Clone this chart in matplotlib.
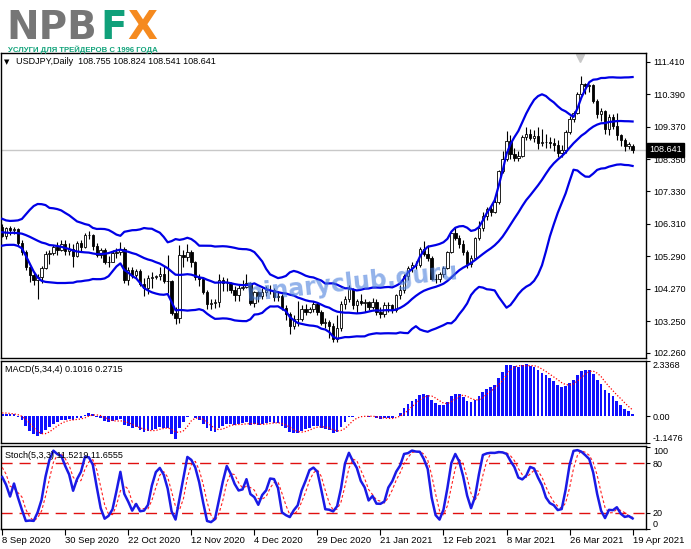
import numpy as np
import pandas as pd
import matplotlib
matplotlib.use('Agg')
import matplotlib.pyplot as plt
import matplotlib.transforms as mtransforms

plt.rcParams['font.family'] = ['Liberation Sans', 'DejaVu Sans']

# daily bars Aug 2020 (only used to warm up the indicators at the left edge)
warm_close = [105.95, 105.72, 105.55, 105.58, 105.92, 105.95, 106.35, 106.45, 106.25, 106.10,
              105.95, 105.75, 105.85, 105.80, 105.82, 105.85, 106.05, 106.00, 106.40, 105.80,
              105.90, 106.10, 106.25, 106.20, 106.25, 106.30]
warm_high = [106.45, 106.00, 105.85, 105.75, 106.05, 106.10, 106.50, 106.90, 106.70, 106.35,
             106.20, 106.10, 106.05, 106.05, 106.00, 106.00, 106.25, 106.30, 106.60, 106.30,
             106.10, 106.20, 106.35, 106.40, 106.40, 106.40]
warm_low = [105.60, 105.35, 105.30, 105.35, 105.50, 105.70, 105.90, 106.20, 106.00, 105.90,
            105.70, 105.45, 105.60, 105.55, 105.60, 105.65, 105.75, 105.80, 105.95, 105.25,
            105.60, 105.75, 105.90, 106.00, 106.05, 106.15]

# USDJPY daily, 8 Sep 2020 .. 19 Apr 2021 (161 bars)
opens = [106.22, 105.93, 106.18, 106.12, 106.16, 105.72, 105.44, 104.95, 104.72, 104.56,
         104.65, 104.93, 105.38, 105.40, 105.58, 105.50, 105.68, 105.47, 105.53, 105.30,
         105.72, 105.60, 105.95, 105.97, 105.63, 105.33, 105.48, 105.11, 105.13, 105.39,
         105.43, 105.52, 104.55, 104.87, 104.72, 104.84, 104.44, 104.30, 104.60, 104.65,
         104.68, 104.73, 104.52, 104.51, 103.51, 103.35, 105.34, 105.28, 105.42, 105.10,
         104.63, 104.58, 104.18, 103.80, 103.83, 103.85, 104.55, 104.45, 104.47, 104.25,
         104.07, 104.30, 104.33, 104.46, 103.84, 104.17, 104.05, 104.18, 104.23, 104.25,
         104.01, 104.06, 103.67, 103.49, 103.10, 103.31, 103.33, 103.64, 103.56, 103.65,
         103.79, 103.54, 103.21, 103.24, 103.12, 102.71, 103.03, 103.80, 103.94, 104.26,
         103.75, 103.88, 103.84, 103.87, 103.69, 103.86, 103.53, 103.49, 103.78, 103.76,
         103.61, 104.07, 104.23, 104.68, 104.94, 105.02, 105.03, 105.53, 105.38, 105.24,
         104.58, 104.57, 104.74, 104.94, 105.42, 106.03, 105.88, 105.69, 105.42, 105.06,
         105.25, 105.86, 106.18, 106.57, 106.77, 106.70, 107.00, 107.97, 108.35, 108.91,
         108.51, 108.39, 108.46, 109.03, 109.15, 109.00, 109.06, 108.84, 108.88, 108.88,
         108.85, 108.79, 108.55, 108.64, 109.20, 109.61, 109.80, 110.38, 110.72, 110.63,
         110.69, 110.17, 109.75, 109.86, 109.28, 109.67, 109.38, 109.09, 108.94, 108.76,
         108.755]
highs = [106.30, 106.20, 106.25, 106.20, 106.18, 105.80, 105.50, 105.00, 104.80, 104.75,
         105.00, 105.45, 105.50, 105.65, 105.75, 105.80, 105.80, 105.70, 105.68, 105.78,
         105.80, 106.02, 106.10, 106.00, 105.70, 105.55, 105.55, 105.30, 105.50, 105.55,
         105.75, 105.60, 104.95, 104.95, 104.90, 104.88, 104.60, 104.70, 104.80, 104.72,
         104.95, 105.00, 105.34, 104.55, 103.70, 105.65, 105.48, 105.68, 105.48, 105.15,
         104.75, 104.65, 104.25, 103.95, 103.95, 104.75, 104.65, 104.60, 104.50, 104.35,
         104.40, 104.55, 104.75, 104.50, 104.20, 104.22, 104.30, 104.35, 104.40, 104.30,
         104.20, 104.12, 103.75, 103.55, 103.45, 103.90, 103.75, 103.80, 103.70, 103.90,
         103.85, 103.60, 103.35, 103.30, 103.20, 103.45, 103.90, 104.05, 104.40, 104.30,
         103.95, 104.10, 103.95, 103.90, 104.00, 103.95, 103.70, 103.85, 103.85, 103.80,
         104.10, 104.40, 104.75, 105.00, 105.10, 105.15, 105.60, 105.77, 105.65, 105.30,
         104.75, 104.80, 105.00, 105.45, 106.05, 106.22, 105.95, 105.80, 105.50, 105.35,
         105.90, 106.40, 106.70, 106.85, 106.90, 107.10, 108.00, 108.60, 109.23, 109.10,
         108.70, 108.60, 109.10, 109.35, 109.30, 109.25, 109.35, 109.30, 109.15, 109.05,
         109.00, 108.95, 108.80, 109.25, 109.70, 109.85, 110.45, 110.97, 110.75, 110.70,
         110.70, 110.25, 109.95, 109.90, 109.75, 109.75, 109.80, 109.15, 109.00, 108.90,
         108.824]
lows = [105.90, 105.85, 105.95, 106.00, 105.62, 105.35, 104.85, 104.50, 104.40, 103.95,
        104.45, 104.88, 105.05, 105.35, 105.35, 105.45, 105.35, 105.35, 104.95, 105.28,
        105.45, 105.55, 105.85, 105.50, 105.28, 105.25, 105.05, 104.95, 105.10, 105.25,
        105.35, 104.45, 104.40, 104.60, 104.60, 104.35, 104.05, 104.10, 104.30, 104.58,
        104.55, 104.45, 104.14, 103.45, 103.18, 103.20, 104.95, 105.15, 104.95, 104.55,
        104.35, 104.10, 103.65, 103.65, 103.68, 103.70, 104.20, 104.20, 104.15, 103.90,
        103.90, 104.25, 104.30, 103.75, 103.70, 103.85, 103.95, 104.05, 104.10, 103.90,
        103.90, 103.62, 103.30, 102.86, 103.00, 103.10, 103.25, 103.45, 103.50, 103.55,
        103.45, 103.15, 103.05, 102.72, 102.60, 102.59, 102.95, 103.65, 103.85, 103.65,
        103.50, 103.75, 103.55, 103.60, 103.65, 103.45, 103.35, 103.40, 103.55, 103.50,
        103.55, 103.95, 104.15, 104.55, 104.80, 104.90, 104.95, 105.30, 105.15, 104.55,
        104.45, 104.50, 104.65, 104.90, 105.40, 105.80, 105.55, 105.35, 104.92, 104.95,
        105.20, 105.80, 106.10, 106.45, 106.55, 106.65, 106.95, 107.90, 108.30, 108.35,
        108.30, 108.30, 108.40, 108.95, 108.95, 108.90, 108.65, 108.75, 108.70, 108.70,
        108.60, 108.40, 108.40, 108.55, 109.15, 109.50, 109.75, 110.35, 110.40, 110.45,
        110.10, 109.65, 109.55, 109.15, 109.10, 109.30, 108.95, 108.75, 108.60, 108.65,
        108.541]
closes = [105.93, 106.18, 106.12, 106.16, 105.72, 105.44, 104.95, 104.72, 104.56, 104.65,
          104.93, 105.38, 105.40, 105.58, 105.50, 105.68, 105.47, 105.53, 105.30, 105.72,
          105.60, 105.95, 105.97, 105.63, 105.33, 105.48, 105.11, 105.13, 105.39, 105.43,
          105.52, 104.55, 104.87, 104.72, 104.84, 104.44, 104.30, 104.60, 104.65, 104.68,
          104.73, 104.52, 104.51, 103.51, 103.35, 105.34, 105.28, 105.42, 105.10, 104.63,
          104.58, 104.18, 103.80, 103.83, 103.85, 104.55, 104.45, 104.47, 104.25, 104.07,
          104.30, 104.33, 104.46, 103.84, 104.17, 104.05, 104.18, 104.23, 104.25, 104.01,
          104.06, 103.67, 103.49, 103.10, 103.31, 103.33, 103.64, 103.56, 103.65, 103.79,
          103.54, 103.21, 103.24, 103.12, 102.71, 103.03, 103.80, 103.94, 104.26, 103.75,
          103.88, 103.84, 103.87, 103.69, 103.86, 103.53, 103.49, 103.78, 103.76, 103.61,
          104.07, 104.23, 104.68, 104.94, 105.02, 105.03, 105.53, 105.38, 105.24, 104.58,
          104.57, 104.74, 104.94, 105.42, 106.03, 105.88, 105.69, 105.42, 105.06, 105.25,
          105.86, 106.18, 106.57, 106.77, 106.70, 107.00, 107.97, 108.35, 108.91, 108.51,
          108.39, 108.46, 109.03, 109.15, 109.00, 109.06, 108.84, 108.88, 108.88, 108.85,
          108.79, 108.55, 108.64, 109.20, 109.61, 109.80, 110.38, 110.72, 110.63, 110.69,
          110.17, 109.75, 109.86, 109.28, 109.67, 109.38, 109.09, 108.94, 108.76, 108.81,
          108.641]

date_pos = [0, 16, 32, 48, 64, 80, 96, 112, 128, 144, 160]
date_labels = ['8 Sep 2020', '30 Sep 2020', '22 Oct 2020', '12 Nov 2020', '4 Dec 2020',
               '29 Dec 2020', '21 Jan 2021', '12 Feb 2021', '8 Mar 2021', '26 Mar 2021',
               '19 Apr 2021']
price_ticks = [111.410, 110.390, 109.370, 108.350, 107.330, 106.310, 105.290, 104.270,
               103.250, 102.260]
macd_top, macd_bottom = 2.3368, -1.1476
last_price = 108.641

# indicators: Bollinger(20,2), MACD(5,34,4), Stochastic(5,3,3)
nw = len(warm_close)
c_all = pd.Series(warm_close + closes)
h_all = pd.Series(warm_high + highs)
l_all = pd.Series(warm_low + lows)
mid = c_all.rolling(20).mean()
sd = c_all.rolling(20).std(ddof=0)
bb_up = (mid + 2 * sd)[nw:].values
bb_mid = mid[nw:].values
bb_lo = (mid - 2 * sd)[nw:].values
macd = c_all.ewm(span=5, adjust=False).mean() - c_all.ewm(span=34, adjust=False).mean()
sig = macd.rolling(4).mean()
macd = macd[nw:].values
sig = sig[nw:].values
hh = h_all.rolling(5).max()
ll = l_all.rolling(5).min()
k = (c_all - ll).rolling(3).sum() / (hh - ll).rolling(3).sum() * 100
d = k.rolling(3).mean()
k = k[nw:].values
d = d[nw:].values

o = np.array(opens)
h = np.array(highs)
l = np.array(lows)
c = np.array(closes)
x = np.arange(len(c))

W, H = 691, 549
fig = plt.figure(figsize=(W / 100, H / 100), dpi=100)


def fx(px):
    return px / W


def fy(py):
    return 1 - py / H


ax = fig.add_axes([fx(1), fy(358), fx(646) - fx(1), fy(53) - fy(358)])
ax_m = fig.add_axes([fx(1), fy(443.3), fx(646) - fx(1), fy(361.3) - fy(443.3)])
ax_s = fig.add_axes([fx(1), fy(529), fx(646) - fx(1), fy(445.7) - fy(529)])

fs = 6.5
for a in (ax, ax_m, ax_s):
    a.set_xlim(-0.3, 163.4)
    a.yaxis.tick_right()
    a.tick_params(axis='y', direction='out', length=3, width=0.8, labelsize=fs, pad=2)
    for sp in a.spines.values():
        sp.set_linewidth(1.0)
        sp.set_color('black')

# --- price panel
ax.axhline(last_price, color='#c8c8c8', lw=1, zorder=1)
ax.vlines(x, l, h, color='black', lw=0.8, zorder=2)
up = c >= o
ax.bar(x[up], (c - o)[up], bottom=o[up], width=0.62, facecolor='white',
       edgecolor='black', linewidth=0.6, zorder=2)
ax.bar(x[~up], (o - c)[~up], bottom=c[~up], width=0.62, facecolor='black',
       edgecolor='black', linewidth=0.6, zorder=2)
for band in (bb_up, bb_mid, bb_lo):
    ax.plot(x, band, color='#0000e6', lw=1.6, zorder=3)
ax.set_ylim(102.10, 111.68)
ax.set_yticks(price_ticks)
ax.set_yticklabels([f'{v:.3f}' for v in price_ticks])
ax.set_xticks([])
off = mtransforms.offset_copy(ax.get_yaxis_transform(), fig=fig, x=3, y=0, units='dots')
ax.text(1.0, last_price, f'{last_price:.3f}', transform=off, ha='left', va='center',
        fontsize=fs, color='white', zorder=5,
        bbox=dict(boxstyle='square,pad=0.25', facecolor='black', edgecolor='black'))
ax.plot([0.898], [0.985], marker='v', color='#c8c8c8', markersize=6,
        transform=ax.transAxes, clip_on=False)
ax.text(0.545, 0.245, 'binaryclub.guru', transform=ax.transAxes, ha='center', va='center',
        rotation=6, fontsize=17, weight='bold', color='#4a7fdc', alpha=0.6,
        family='DejaVu Sans', zorder=6)

# --- MACD panel
ax_m.bar(x, macd, width=0.7, color='#1010ff', zorder=2)
ax_m.plot(x, sig, color='#ff0000', lw=0.9, ls=(0, (1, 1.5)), zorder=3)
ax_m.set_ylim(macd_bottom, macd_top)
ax_m.set_yticks([macd_top, 0.0, macd_bottom])
ax_m.set_yticklabels([f'{macd_top:.4f}', '0.00', f'{macd_bottom:.4f}'])
ax_m.get_yticklabels()[0].set_va('top')
ax_m.get_yticklabels()[2].set_va('bottom')
ax_m.set_xticks([])

# --- Stochastic panel
ax_s.axhline(80, color='#e01010', lw=1, ls=(0, (8, 5)))
ax_s.axhline(20, color='#e01010', lw=1, ls=(0, (8, 5)))
ax_s.plot(x, d, color='#ff2020', lw=0.8, ls=(0, (2.5, 2)), zorder=3)
ax_s.plot(x, k, color='#1a1ae6', lw=1.8, zorder=4)
ax_s.set_ylim(0, 101)
ax_s.set_yticks([100, 80, 20, 0])
ax_s.set_yticklabels(['100', '80', '20', '0'])
ax_s.get_yticklabels()[0].set_va('top')
ax_s.get_yticklabels()[3].set_va('bottom')
ax_s.set_xticks(date_pos)
ax_s.set_xticklabels(date_labels, fontsize=6.8)
ax_s.tick_params(axis='x', direction='out', length=4, width=0.8, pad=1)
for lab in ax_s.get_xticklabels():
    lab.set_ha('left')

# --- texts
fig.text(fx(4), fy(62), '\u25bc', fontsize=5, va='center', ha='left', family='DejaVu Sans')
fig.text(fx(16), fy(62), 'USDJPY,Daily  108.755 108.824 108.541 108.641', fontsize=fs,
         va='center', ha='left')
fig.text(fx(5), fy(369), 'MACD(5,34,4) 0.1016 0.2715', fontsize=fs, va='center', ha='left')
fig.text(fx(5), fy(456), 'Stoch(5,3,3) 11.5219 11.6555', fontsize=fs, va='center', ha='left')

# logo
fig.text(fx(6), fy(39), 'NPB', fontsize=28, weight='bold', color='#767676',
         family='DejaVu Sans', va='baseline', ha='left')
fig.text(fx(100), fy(39), 'F', fontsize=28, weight='bold', color='#10a07a',
         family='DejaVu Sans', va='baseline', ha='left')
fig.text(fx(127), fy(39), 'X', fontsize=28, weight='bold', color='#f58a1f',
         family='DejaVu Sans', va='baseline', ha='left')
fig.text(fx(8), fy(52), 'УСЛУГИ ДЛЯ ТРЕЙДЕРОВ С 1996 ГОДА', fontsize=5.6, weight='bold',
         color='#12a37a', va='baseline')

fig.savefig('out.png', dpi=100)
